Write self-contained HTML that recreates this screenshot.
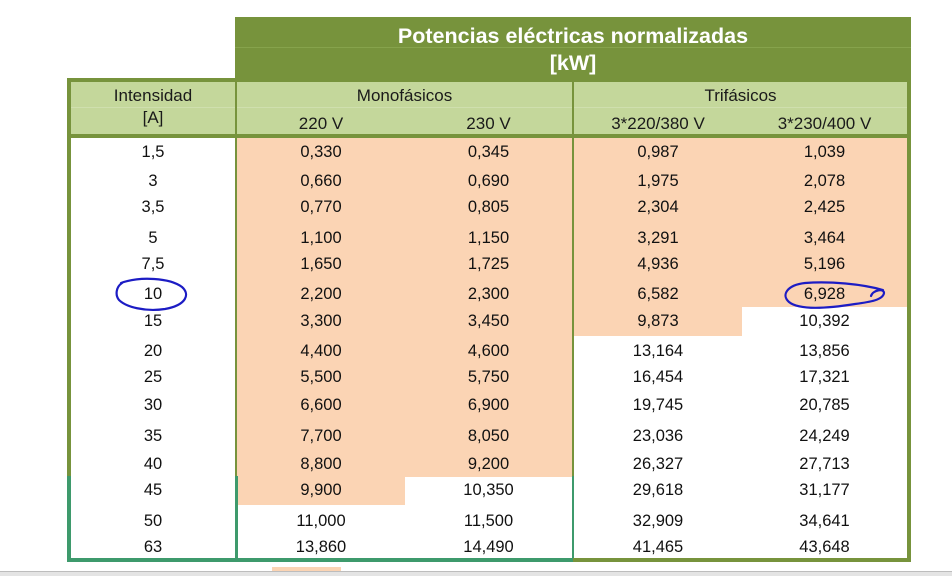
<!DOCTYPE html>
<html>
<head>
<meta charset="utf-8">
<style>
  html,body{margin:0;padding:0;background:#fff;}
  body{width:952px;height:576px;position:relative;overflow:hidden;font-family:"Liberation Sans",Arial,sans-serif;color:#111;}
  .a{position:absolute;}
  .t{position:absolute;height:20px;line-height:20px;text-align:center;font-size:16.5px;white-space:nowrap;}
  .h{position:absolute;height:20px;line-height:20px;text-align:center;font-size:17px;white-space:nowrap;color:#1a1a1a;}
  .ol{background:#77933c;}
  .tl{background:#3e9a6c;}
  .pe{background:#fbd4b4;}
</style>
</head>
<body>
<!-- title box -->
<div class="a ol" style="left:235px;top:17px;width:676px;height:65px;"></div>
<div class="a" style="left:235px;top:47px;width:676px;height:1px;background:#86a34c;"></div>
<div class="a" style="left:235px;top:24px;width:676px;height:24px;line-height:24px;text-align:center;color:#fff;font-weight:bold;font-size:21.5px;">Potencias eléctricas normalizadas</div>
<div class="a" style="left:235px;top:51px;width:676px;height:24px;line-height:24px;text-align:center;color:#fff;font-weight:bold;font-size:21.5px;">[kW]</div>

<!-- header fill -->
<div class="a" style="left:71px;top:82px;width:836px;height:52px;background:#c4d79b;"></div>
<div class="a" style="left:71px;top:107px;width:836px;height:1px;background:#cfdfae;"></div>

<!-- peach cells -->
<div class="a pe" style="left:237px;top:138px;width:168px;height:367px;"></div>
<div class="a pe" style="left:405px;top:138px;width:167px;height:339px;"></div>
<div class="a pe" style="left:574px;top:138px;width:168px;height:198px;"></div>
<div class="a pe" style="left:742px;top:138px;width:165px;height:169px;"></div>

<!-- borders -->
<div class="a ol" style="left:67px;top:78px;width:844px;height:4px;"></div>
<div class="a ol" style="left:67px;top:134px;width:844px;height:4px;"></div>
<div class="a ol" style="left:67px;top:78px;width:4px;height:398px;"></div>
<div class="a tl" style="left:67px;top:476px;width:4px;height:86px;"></div>
<div class="a ol" style="left:907px;top:78px;width:4px;height:484px;"></div>
<div class="a tl" style="left:67px;top:558px;width:506px;height:4px;"></div>
<div class="a ol" style="left:573px;top:558px;width:338px;height:4px;"></div>
<!-- dividers -->
<div class="a ol" style="left:235px;top:82px;width:2px;height:394px;"></div>
<div class="a tl" style="left:235px;top:476px;width:3px;height:82px;"></div>
<div class="a ol" style="left:572px;top:82px;width:2px;height:394px;"></div>
<div class="a tl" style="left:572px;top:476px;width:2px;height:82px;"></div>

<!-- header text -->
<div class="h" style="left:71px;width:164px;top:86px;">Intensidad</div>
<div class="h" style="left:71px;width:164px;top:108px;">[A]</div>
<div class="h" style="left:237px;width:335px;top:86px;">Monofásicos</div>
<div class="h" style="left:237px;width:168px;top:114px;">220 V</div>
<div class="h" style="left:405px;width:167px;top:114px;">230 V</div>
<div class="h" style="left:574px;width:333px;top:86px;">Trifásicos</div>
<div class="h" style="left:574px;width:168px;top:114px;">3*220/380 V</div>
<div class="h" style="left:742px;width:165px;top:114px;">3*230/400 V</div>

<!-- data rows -->
<div class="t" style="left:71px;width:164px;top:142px;">1,5</div><div class="t" style="left:237px;width:168px;top:142px;">0,330</div><div class="t" style="left:405px;width:167px;top:142px;">0,345</div><div class="t" style="left:574px;width:168px;top:142px;">0,987</div><div class="t" style="left:742px;width:165px;top:142px;">1,039</div>
<div class="t" style="left:71px;width:164px;top:171px;">3</div><div class="t" style="left:237px;width:168px;top:171px;">0,660</div><div class="t" style="left:405px;width:167px;top:171px;">0,690</div><div class="t" style="left:574px;width:168px;top:171px;">1,975</div><div class="t" style="left:742px;width:165px;top:171px;">2,078</div>
<div class="t" style="left:71px;width:164px;top:197px;">3,5</div><div class="t" style="left:237px;width:168px;top:197px;">0,770</div><div class="t" style="left:405px;width:167px;top:197px;">0,805</div><div class="t" style="left:574px;width:168px;top:197px;">2,304</div><div class="t" style="left:742px;width:165px;top:197px;">2,425</div>
<div class="t" style="left:71px;width:164px;top:228px;">5</div><div class="t" style="left:237px;width:168px;top:228px;">1,100</div><div class="t" style="left:405px;width:167px;top:228px;">1,150</div><div class="t" style="left:574px;width:168px;top:228px;">3,291</div><div class="t" style="left:742px;width:165px;top:228px;">3,464</div>
<div class="t" style="left:71px;width:164px;top:254px;">7,5</div><div class="t" style="left:237px;width:168px;top:254px;">1,650</div><div class="t" style="left:405px;width:167px;top:254px;">1,725</div><div class="t" style="left:574px;width:168px;top:254px;">4,936</div><div class="t" style="left:742px;width:165px;top:254px;">5,196</div>
<div class="t" style="left:71px;width:164px;top:284px;">10</div><div class="t" style="left:237px;width:168px;top:284px;">2,200</div><div class="t" style="left:405px;width:167px;top:284px;">2,300</div><div class="t" style="left:574px;width:168px;top:284px;">6,582</div><div class="t" style="left:742px;width:165px;top:284px;">6,928</div>
<div class="t" style="left:71px;width:164px;top:311px;">15</div><div class="t" style="left:237px;width:168px;top:311px;">3,300</div><div class="t" style="left:405px;width:167px;top:311px;">3,450</div><div class="t" style="left:574px;width:168px;top:311px;">9,873</div><div class="t" style="left:742px;width:165px;top:311px;">10,392</div>
<div class="t" style="left:71px;width:164px;top:341px;">20</div><div class="t" style="left:237px;width:168px;top:341px;">4,400</div><div class="t" style="left:405px;width:167px;top:341px;">4,600</div><div class="t" style="left:574px;width:168px;top:341px;">13,164</div><div class="t" style="left:742px;width:165px;top:341px;">13,856</div>
<div class="t" style="left:71px;width:164px;top:367px;">25</div><div class="t" style="left:237px;width:168px;top:367px;">5,500</div><div class="t" style="left:405px;width:167px;top:367px;">5,750</div><div class="t" style="left:574px;width:168px;top:367px;">16,454</div><div class="t" style="left:742px;width:165px;top:367px;">17,321</div>
<div class="t" style="left:71px;width:164px;top:395px;">30</div><div class="t" style="left:237px;width:168px;top:395px;">6,600</div><div class="t" style="left:405px;width:167px;top:395px;">6,900</div><div class="t" style="left:574px;width:168px;top:395px;">19,745</div><div class="t" style="left:742px;width:165px;top:395px;">20,785</div>
<div class="t" style="left:71px;width:164px;top:426px;">35</div><div class="t" style="left:237px;width:168px;top:426px;">7,700</div><div class="t" style="left:405px;width:167px;top:426px;">8,050</div><div class="t" style="left:574px;width:168px;top:426px;">23,036</div><div class="t" style="left:742px;width:165px;top:426px;">24,249</div>
<div class="t" style="left:71px;width:164px;top:454px;">40</div><div class="t" style="left:237px;width:168px;top:454px;">8,800</div><div class="t" style="left:405px;width:167px;top:454px;">9,200</div><div class="t" style="left:574px;width:168px;top:454px;">26,327</div><div class="t" style="left:742px;width:165px;top:454px;">27,713</div>
<div class="t" style="left:71px;width:164px;top:480px;">45</div><div class="t" style="left:237px;width:168px;top:480px;">9,900</div><div class="t" style="left:405px;width:167px;top:480px;">10,350</div><div class="t" style="left:574px;width:168px;top:480px;">29,618</div><div class="t" style="left:742px;width:165px;top:480px;">31,177</div>
<div class="t" style="left:71px;width:164px;top:511px;">50</div><div class="t" style="left:237px;width:168px;top:511px;">11,000</div><div class="t" style="left:405px;width:167px;top:511px;">11,500</div><div class="t" style="left:574px;width:168px;top:511px;">32,909</div><div class="t" style="left:742px;width:165px;top:511px;">34,641</div>
<div class="t" style="left:71px;width:164px;top:537px;">63</div><div class="t" style="left:237px;width:168px;top:537px;">13,860</div><div class="t" style="left:405px;width:167px;top:537px;">14,490</div><div class="t" style="left:574px;width:168px;top:537px;">41,465</div><div class="t" style="left:742px;width:165px;top:537px;">43,648</div>

<!-- bottom strip -->
<div class="a pe" style="left:272px;top:567px;width:69px;height:5px;"></div>
<div class="a" style="left:0;top:571px;width:952px;height:1px;background:#bdbdbd;"></div>
<div class="a" style="left:0;top:572px;width:952px;height:4px;background:#e4e4e4;"></div>

<!-- hand-drawn blue marks -->
<svg class="a" style="left:0;top:0;" width="952" height="576" viewBox="0 0 952 576">
  <path d="M 121 283 C 140 276, 170 278, 182 287 C 190 294, 187 305, 165 309 C 145 312, 126 307, 119 300 C 115 295, 116 287, 122 283" fill="none" stroke="#1c1cc4" stroke-width="2.2" stroke-linecap="round"/>
  <path d="M 871 296 C 873 290, 884 288, 884 293 C 883 300, 870 302, 855 304 C 830 308, 800 311, 789 302 C 781 295, 787 285, 805 283 C 830 281, 862 284, 883 290" fill="none" stroke="#1c1cc4" stroke-width="2.2" stroke-linecap="round"/>
</svg>
</body>
</html>
